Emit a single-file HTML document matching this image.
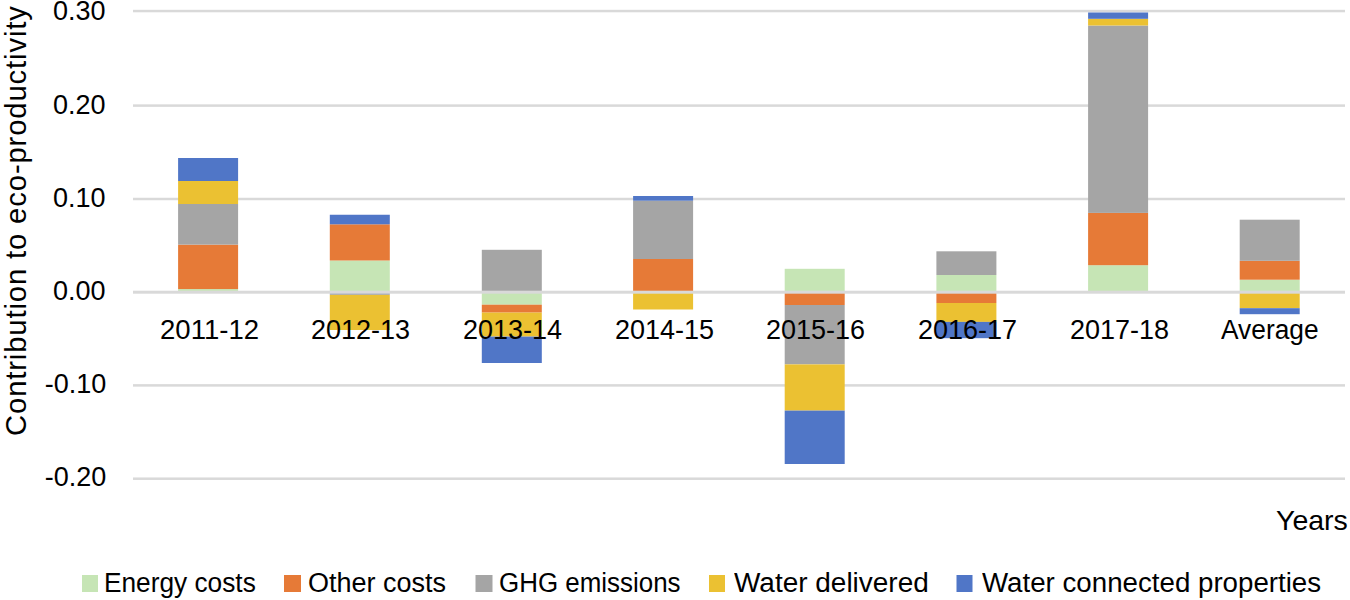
<!DOCTYPE html>
<html><head><meta charset="utf-8">
<style>
html,body{margin:0;padding:0;background:#fff;}
body{width:1350px;height:600px;position:relative;overflow:hidden;font-family:"Liberation Sans",sans-serif;color:#000;}
.t{position:absolute;white-space:nowrap;line-height:1;transform-origin:0 0;}
svg{position:absolute;left:0;top:0;}
</style></head>
<body>
<svg width="1350" height="600" viewBox="0 0 1350 600">
<g fill="#d9d9d9">
<rect x="133" y="9.8" width="1212" height="2.5"/>
<rect x="133" y="104.35" width="1212" height="2.5"/>
<rect x="133" y="197.75" width="1212" height="2.5"/>
<rect x="133" y="384.15" width="1212" height="2.5"/>
<rect x="133" y="477.45" width="1212" height="2.5"/>
</g>
<!-- bar 1 -->
<g transform="translate(178.1,0)">
<rect y="289.05" width="60" height="3.05" fill="#c6e5b5"/>
<rect y="244.6" width="60" height="44.45" fill="#e67a37"/>
<rect y="204" width="60" height="40.6" fill="#a5a5a5"/>
<rect y="181" width="60" height="23" fill="#ebc132"/>
<rect y="158" width="60" height="23" fill="#5076c7"/>
</g>
<!-- bar 2 -->
<g transform="translate(329.8,0)">
<rect y="260.5" width="60" height="31.6" fill="#c6e5b5"/>
<rect y="224.3" width="60" height="36.2" fill="#e67a37"/>
<rect y="214.75" width="60" height="9.55" fill="#5076c7"/>
<rect y="292.1" width="60" height="2.7" fill="#8f9cba"/>
<rect y="294.8" width="60" height="35.2" fill="#ebc132"/>
</g>
<!-- bar 3 -->
<g transform="translate(481.8,0)">
<rect y="249.8" width="60" height="42.3" fill="#a5a5a5"/>
<rect y="292.1" width="60" height="12.6" fill="#c6e5b5"/>
<rect y="304.7" width="60" height="7.9" fill="#e67a37"/>
<rect y="312.6" width="60" height="24" fill="#ebc132"/>
<rect y="336.6" width="60" height="26.4" fill="#5076c7"/>
</g>
<!-- bar 4 -->
<g transform="translate(633.1,0)">
<rect y="259" width="60" height="33.1" fill="#e67a37"/>
<rect y="200.7" width="60" height="58.3" fill="#a5a5a5"/>
<rect y="196" width="60" height="4.7" fill="#5076c7"/>
<rect y="292.1" width="60" height="17.4" fill="#ebc132"/>
</g>
<!-- bar 5 -->
<g transform="translate(784.7,0)">
<rect y="268.8" width="60" height="23.3" fill="#c6e5b5"/>
<rect y="292.1" width="60" height="12.9" fill="#e67a37"/>
<rect y="305" width="60" height="59.4" fill="#a5a5a5"/>
<rect y="364.4" width="60" height="46.2" fill="#ebc132"/>
<rect y="410.6" width="60" height="53.4" fill="#5076c7"/>
</g>
<!-- bar 6 -->
<g transform="translate(936.4,0)">
<rect y="275" width="60" height="17.1" fill="#c6e5b5"/>
<rect y="251.3" width="60" height="23.7" fill="#a5a5a5"/>
<rect y="292.1" width="60" height="10.9" fill="#e67a37"/>
<rect y="303" width="60" height="18.9" fill="#ebc132"/>
<rect y="321.9" width="60" height="16.3" fill="#5076c7"/>
</g>
<!-- bar 7 -->
<g transform="translate(1088.1,0)">
<rect y="265.2" width="60" height="26.9" fill="#c6e5b5"/>
<rect y="212.9" width="60" height="52.3" fill="#e67a37"/>
<rect y="25.5" width="60" height="187.4" fill="#a5a5a5"/>
<rect y="18.8" width="60" height="6.7" fill="#ebc132"/>
<rect y="12.5" width="60" height="6.3" fill="#5076c7"/>
</g>
<!-- bar 8 -->
<g transform="translate(1239.7,0)">
<rect y="279.7" width="60" height="12.4" fill="#c6e5b5"/>
<rect y="260.8" width="60" height="18.9" fill="#e67a37"/>
<rect y="219.7" width="60" height="41.1" fill="#a5a5a5"/>
<rect y="292.1" width="60" height="16.1" fill="#ebc132"/>
<rect y="308.2" width="60" height="6" fill="#5076c7"/>
</g>
<!-- axis line -->
<rect x="133" y="290.7" width="1212" height="3" fill="#d9d9d9"/>
<!-- legend swatches -->
<rect x="82" y="575" width="16" height="17" fill="#c6e5b5"/>
<rect x="284" y="575" width="17" height="17" fill="#e67a37"/>
<rect x="475.5" y="575" width="17" height="17" fill="#a5a5a5"/>
<rect x="709" y="575" width="16" height="17" fill="#ebc132"/>
<rect x="956.5" y="575" width="16" height="17" fill="#5076c7"/>
</svg>
<div class="t" id="y1" style="left:53.00px;top:-1.70px;font-size:27.00px">0.30</div>
<div class="t" id="y2" style="left:53.00px;top:91.70px;font-size:27.00px">0.20</div>
<div class="t" id="y3" style="left:53.00px;top:185.00px;font-size:27.00px">0.10</div>
<div class="t" id="y4" style="left:53.00px;top:278.00px;font-size:27.00px">0.00</div>
<div class="t" id="y5" style="left:44.70px;top:371.30px;font-size:27.00px">-0.10</div>
<div class="t" id="y6" style="left:44.70px;top:464.30px;font-size:27.00px">-0.20</div>
<div class="t" id="x1" style="left:159.60px;top:317.00px;font-size:27.00px;transform:scaleX(1.0200)">2011-12</div>
<div class="t" id="x2" style="left:311.00px;top:317.00px;font-size:27.00px">2012-13</div>
<div class="t" id="x3" style="left:463.00px;top:317.00px;font-size:27.00px">2013-14</div>
<div class="t" id="x4" style="left:615.00px;top:317.00px;font-size:27.00px">2014-15</div>
<div class="t" id="x5" style="left:766.00px;top:317.00px;font-size:27.00px">2015-16</div>
<div class="t" id="x6" style="left:918.00px;top:317.00px;font-size:27.00px">2016-17</div>
<div class="t" id="x7" style="left:1070.00px;top:317.00px;font-size:27.00px">2017-18</div>
<div class="t" id="x8" style="left:1221.00px;top:317.00px;font-size:27.00px;transform:scaleX(0.9750)">Average</div>
<div class="t" id="yr" style="left:1276.00px;top:506.20px;font-size:28.50px">Years</div>
<div class="t" id="yt" style="left:0.50px;top:436.00px;font-size:29.30px;transform:rotate(-90deg);letter-spacing:0.840px">Contribution to eco-productivity</div>
<div class="t" id="l1" style="left:103.60px;top:569.80px;font-size:27.00px;transform:scaleX(0.9725)">Energy costs</div>
<div class="t" id="l2" style="left:308.00px;top:569.50px;font-size:27.00px">Other costs</div>
<div class="t" id="l3" style="left:498.80px;top:569.50px;font-size:27.00px;transform:scaleX(0.9604)">GHG emissions</div>
<div class="t" id="l4" style="left:734.00px;top:569.50px;font-size:27.00px;transform:scaleX(1.0355)">Water delivered</div>
<div class="t" id="l5" style="left:982.00px;top:569.50px;font-size:27.00px;transform:scaleX(1.0255)">Water connected properties</div>
</body></html>
